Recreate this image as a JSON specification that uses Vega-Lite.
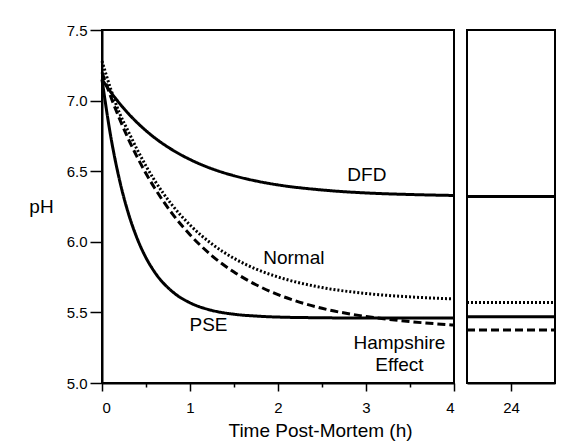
{
  "$schema": "https://vega.github.io/schema/vega-lite/v6.json",
  "padding": {"left": 27, "top": 22, "right": 5, "bottom": 5},
  "background": "white",
  "bounds": "flush",
  "config": {
    "font": "Liberation Sans",
    "view": {"stroke": "black", "strokeWidth": 2},
    "axis": {"domainColor": "black", "domainWidth": 2, "tickColor": "black", "tickWidth": 1.5, "labelColor": "black", "titleColor": "black", "grid": false, "labelFontSize": 15, "titleFontSize": 19, "titleFontWeight": "normal"}
  },
  "datasets": {
    "curves": [
      {"group": "DFD", "t": 0, "ph": 7.15}, {"group": "DFD", "t": 0.1, "ph": 7.06}, {"group": "DFD", "t": 0.2, "ph": 6.98}, {"group": "DFD", "t": 0.3, "ph": 6.908}, {"group": "DFD", "t": 0.4, "ph": 6.844}, {"group": "DFD", "t": 0.5, "ph": 6.787}, {"group": "DFD", "t": 0.6, "ph": 6.736}, {"group": "DFD", "t": 0.8, "ph": 6.651}, {"group": "DFD", "t": 1.0, "ph": 6.583}, {"group": "DFD", "t": 1.25, "ph": 6.517}, {"group": "DFD", "t": 1.5, "ph": 6.468}, {"group": "DFD", "t": 1.75, "ph": 6.431}, {"group": "DFD", "t": 2.0, "ph": 6.403}, {"group": "DFD", "t": 2.5, "ph": 6.367}, {"group": "DFD", "t": 3.0, "ph": 6.346}, {"group": "DFD", "t": 3.5, "ph": 6.335}, {"group": "DFD", "t": 4.0, "ph": 6.328},
      {"group": "PSE", "t": 0, "ph": 7.15}, {"group": "PSE", "t": 0.1, "ph": 6.744}, {"group": "PSE", "t": 0.2, "ph": 6.435}, {"group": "PSE", "t": 0.3, "ph": 6.201}, {"group": "PSE", "t": 0.4, "ph": 6.023}, {"group": "PSE", "t": 0.5, "ph": 5.887}, {"group": "PSE", "t": 0.6, "ph": 5.784}, {"group": "PSE", "t": 0.8, "ph": 5.647}, {"group": "PSE", "t": 1.0, "ph": 5.568}, {"group": "PSE", "t": 1.25, "ph": 5.514}, {"group": "PSE", "t": 1.5, "ph": 5.487}, {"group": "PSE", "t": 1.75, "ph": 5.474}, {"group": "PSE", "t": 2.0, "ph": 5.467}, {"group": "PSE", "t": 2.5, "ph": 5.462}, {"group": "PSE", "t": 3.0, "ph": 5.46}, {"group": "PSE", "t": 3.5, "ph": 5.46}, {"group": "PSE", "t": 4.0, "ph": 5.46},
      {"group": "Normal", "t": 0, "ph": 7.28}, {"group": "Normal", "t": 0.1, "ph": 7.08}, {"group": "Normal", "t": 0.2, "ph": 6.91}, {"group": "Normal", "t": 0.3, "ph": 6.78}, {"group": "Normal", "t": 0.4, "ph": 6.653}, {"group": "Normal", "t": 0.5, "ph": 6.537}, {"group": "Normal", "t": 0.6, "ph": 6.433}, {"group": "Normal", "t": 0.8, "ph": 6.258}, {"group": "Normal", "t": 1.0, "ph": 6.119}, {"group": "Normal", "t": 1.25, "ph": 5.984}, {"group": "Normal", "t": 1.5, "ph": 5.883}, {"group": "Normal", "t": 1.75, "ph": 5.807}, {"group": "Normal", "t": 2.0, "ph": 5.751}, {"group": "Normal", "t": 2.5, "ph": 5.676}, {"group": "Normal", "t": 3.0, "ph": 5.634}, {"group": "Normal", "t": 3.5, "ph": 5.61}, {"group": "Normal", "t": 4.0, "ph": 5.595},
      {"group": "Hampshire", "t": 0, "ph": 7.2}, {"group": "Hampshire", "t": 0.1, "ph": 7.027}, {"group": "Hampshire", "t": 0.2, "ph": 6.87}, {"group": "Hampshire", "t": 0.3, "ph": 6.728}, {"group": "Hampshire", "t": 0.4, "ph": 6.6}, {"group": "Hampshire", "t": 0.5, "ph": 6.484}, {"group": "Hampshire", "t": 0.6, "ph": 6.379}, {"group": "Hampshire", "t": 0.8, "ph": 6.198}, {"group": "Hampshire", "t": 1.0, "ph": 6.05}, {"group": "Hampshire", "t": 1.25, "ph": 5.901}, {"group": "Hampshire", "t": 1.5, "ph": 5.786}, {"group": "Hampshire", "t": 1.75, "ph": 5.696}, {"group": "Hampshire", "t": 2.0, "ph": 5.626}, {"group": "Hampshire", "t": 2.5, "ph": 5.529}, {"group": "Hampshire", "t": 3.0, "ph": 5.471}, {"group": "Hampshire", "t": 3.5, "ph": 5.435}, {"group": "Hampshire", "t": 4.0, "ph": 5.41}
    ],
    "end": [
      {"group": "DFD", "h": 22, "ph": 6.32}, {"group": "DFD", "h": 26, "ph": 6.32},
      {"group": "PSE", "h": 22, "ph": 5.47}, {"group": "PSE", "h": 26, "ph": 5.47},
      {"group": "Normal", "h": 22, "ph": 5.57}, {"group": "Normal", "h": 26, "ph": 5.57},
      {"group": "Hampshire", "h": 22, "ph": 5.375}, {"group": "Hampshire", "h": 26, "ph": 5.375}
    ],
    "labels": [
      {"label": "DFD", "t": 3.01, "ph": 6.47},
      {"label": "Normal", "t": 2.18, "ph": 5.883},
      {"label": "PSE", "t": 1.21, "ph": 5.41},
      {"label": "Hampshire", "t": 3.38, "ph": 5.285},
      {"label": "Effect", "t": 3.38, "ph": 5.127}
    ]
  },
  "hconcat": [
    {
      "width": 352,
      "height": 353,
      "layer": [
        {
          "data": {"name": "curves"},
          "mark": {"type": "line", "color": "black", "strokeWidth": 3, "interpolate": "monotone"},
          "encoding": {
            "x": {"field": "t", "type": "quantitative", "scale": {"domain": [0, 4], "nice": false},
              "axis": {"values": [0, 0.5, 1, 1.5, 2, 2.5, 3, 3.5, 4], "labelExpr": "datum.value % 1 === 0 ? format(datum.value, 'd') : ''", "tickSize": {"condition": {"test": "datum.value % 1 === 0", "value": 8}, "value": 4}, "labelPadding": 9, "title": "Time Post-Mortem (h)", "titleX": 218, "titleY": 53, "titleAlign": "center", "titleBaseline": "alphabetic"}},
            "y": {"field": "ph", "type": "quantitative", "scale": {"domain": [5, 7.5], "nice": false, "zero": false},
              "axis": {"values": [5, 5.5, 6, 6.5, 7, 7.5], "format": ".1f", "tickSize": 12, "labelPadding": 3, "title": "pH", "titleAngle": 0, "titleX": -61, "titleY": 176, "titleAlign": "center", "titleBaseline": "middle"}},
            "detail": {"field": "group"},
            "strokeDash": {"field": "group", "type": "nominal", "scale": {"domain": ["DFD", "PSE", "Normal", "Hampshire"], "range": [[1, 0], [1, 0], [2, 2], [8, 4]]}, "legend": null}
          }
        },
        {
          "data": {"name": "labels"},
          "mark": {"type": "text", "fontSize": 19, "color": "black", "align": "center", "baseline": "middle"},
          "encoding": {
            "x": {"field": "t", "type": "quantitative"},
            "y": {"field": "ph", "type": "quantitative"},
            "text": {"field": "label"}
          }
        }
      ]
    },
    {
      "width": 88,
      "height": 353,
      "data": {"name": "end"},
      "mark": {"type": "line", "color": "black", "strokeWidth": 3},
      "encoding": {
        "x": {"field": "h", "type": "quantitative", "scale": {"domain": [22, 26], "nice": false, "zero": false},
          "axis": {"values": [24], "tickSize": 8, "labelPadding": 9, "title": null, "format": "d"}},
        "y": {"field": "ph", "type": "quantitative", "scale": {"domain": [5, 7.5], "nice": false, "zero": false}, "axis": null},
        "detail": {"field": "group"},
        "strokeDash": {"field": "group", "type": "nominal", "scale": {"domain": ["DFD", "PSE", "Normal", "Hampshire"], "range": [[1, 0], [1, 0], [2, 2], [8, 4]]}, "legend": null}
      }
    }
  ],
  "spacing": 13,
  "resolve": {"scale": {"y": "independent", "x": "independent", "strokeDash": "shared"}}
}
